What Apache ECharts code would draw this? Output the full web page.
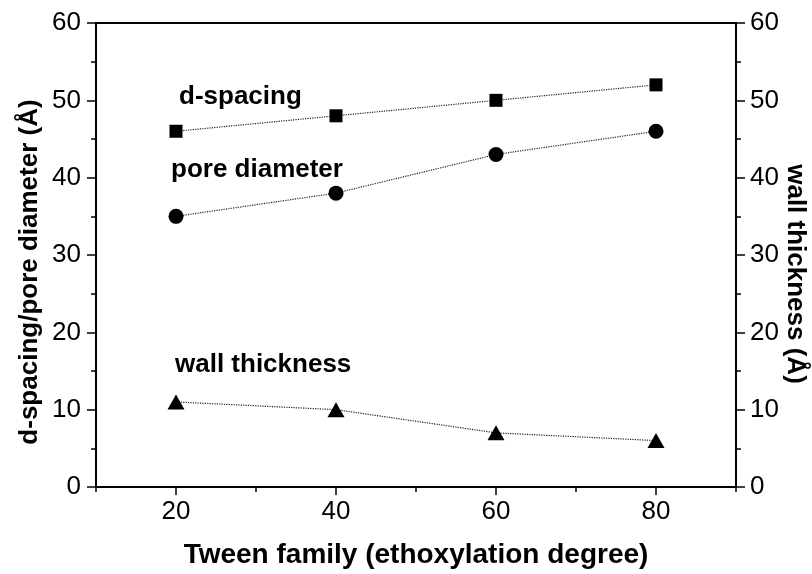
<!DOCTYPE html>
<html>
<head>
<meta charset="utf-8">
<script src="https://cdn.jsdelivr.net/npm/echarts@6/dist/echarts.min.js"></script>
<style>
  html, body { margin: 0; padding: 0; background: #fff; }
  #chart { width: 812px; height: 574px; }
</style>
</head>
<body>
<div id="chart"></div>
<script>
// Tween family (ethoxylation degree)
const tween = [20, 40, 60, 80]
const dSpacing = [46, 48, 50, 52]
const poreDiameter = [35, 38, 43, 46]
const wallThickness = [11, 10, 7, 6]

const xMajorTicks = [20, 40, 60, 80]
const xMinorTicks = [10, 30, 50, 70, 90]

const FONT = 'Liberation Sans, Arial, Helvetica, sans-serif'
const black = '#000'

const pairs = ys => tween.map((x, i) => [x, ys[i]])

const lineStyle = { type: 'dotted', width: 1.2, color: '#222' }

const chart = echarts.init(document.getElementById('chart'))

const option = {
  animation: false,
  backgroundColor: '#fff',
  grid: {
    left: 96, right: 76, top: 23, bottom: 87,
    outerBoundsMode: 'none',
    containLabel: false,
    show: true, borderColor: black, borderWidth: 2
  },
  xAxis: [
    {
      type: 'value',
      min: 10,
      max: 90,
      name: 'Tween family (ethoxylation degree)',
      nameLocation: 'middle',
      nameGap: 54,
      nameMoveOverlap: false,
      nameTextStyle: { fontFamily: FONT, fontWeight: 'bold', fontSize: 28, color: black },
      axisLine: { show: true, lineStyle: { color: black, width: 2 } },
      axisTick: { show: true, length: 8, customValues: xMajorTicks, lineStyle: { color: black, width: 1.5 } },
      axisLabel: { customValues: xMajorTicks, margin: 12, fontFamily: FONT, fontSize: 26, color: black },
      splitLine: { show: false }
    },
    {
      type: 'value',
      position: 'bottom',
      min: 10,
      max: 90,
      axisLine: { show: false },
      axisTick: { show: true, length: 5, customValues: xMinorTicks, lineStyle: { color: black, width: 1.5 } },
      axisLabel: { show: false },
      splitLine: { show: false }
    }
  ],
  yAxis: [
    {
      type: 'value',
      min: 0,
      max: 60,
      interval: 10,
      position: 'left',
      name: 'd-spacing/pore diameter (Å)',
      nameLocation: 'middle',
      nameGap: 53,
      nameMoveOverlap: false,
      nameTextStyle: { fontFamily: FONT, fontWeight: 'bold', fontSize: 26, color: black, padding: [0, 34, 0, 0] },
      axisLine: { show: true, lineStyle: { color: black, width: 2 } },
      axisTick: { show: true, length: 9, lineStyle: { color: black, width: 1.5 } },
      minorTick: { show: true, splitNumber: 2, length: 5, lineStyle: { color: black, width: 1.5 } },
      axisLabel: { margin: 15, fontFamily: FONT, fontSize: 26, color: black },
      splitLine: { show: false }
    },
    {
      type: 'value',
      min: 0,
      max: 60,
      interval: 10,
      position: 'right',
      name: 'wall thickness (Å)',
      nameLocation: 'middle',
      nameRotate: -90,
      nameGap: 46,
      nameMoveOverlap: false,
      nameTextStyle: { fontFamily: FONT, fontWeight: 'bold', fontSize: 26, color: black, padding: [0, 0, 0, 38] },
      axisLine: { show: true, lineStyle: { color: black, width: 2 } },
      axisTick: { show: true, length: 9, lineStyle: { color: black, width: 1.5 } },
      minorTick: { show: true, splitNumber: 2, length: 5, lineStyle: { color: black, width: 1.5 } },
      axisLabel: { margin: 14, fontFamily: FONT, fontSize: 26, color: black },
      splitLine: { show: false }
    }
  ],
  series: [
    {
      name: 'd-spacing',
      type: 'line',
      data: pairs(dSpacing),
      symbol: 'rect',
      symbolSize: 13,
      itemStyle: { color: black },
      lineStyle
    },
    {
      name: 'pore diameter',
      type: 'line',
      data: pairs(poreDiameter),
      symbol: 'circle',
      symbolSize: 15,
      itemStyle: { color: black },
      lineStyle
    },
    {
      name: 'wall thickness',
      type: 'line',
      yAxisIndex: 1,
      data: pairs(wallThickness),
      symbol: 'triangle',
      symbolSize: [17, 15],
      itemStyle: { color: black },
      lineStyle
    }
  ],
  graphic: [
    { type: 'text', x: 179, y: 97, style: { text: 'd-spacing', font: 'bold 26px ' + FONT, fill: black, verticalAlign: 'middle' } },
    { type: 'text', x: 171, y: 170, style: { text: 'pore diameter', font: 'bold 26px ' + FONT, fill: black, verticalAlign: 'middle' } },
    { type: 'text', x: 175, y: 365, style: { text: 'wall thickness', font: 'bold 26px ' + FONT, fill: black, verticalAlign: 'middle' } }
  ]
}

chart.setOption(option)
</script>
</body>
</html>
